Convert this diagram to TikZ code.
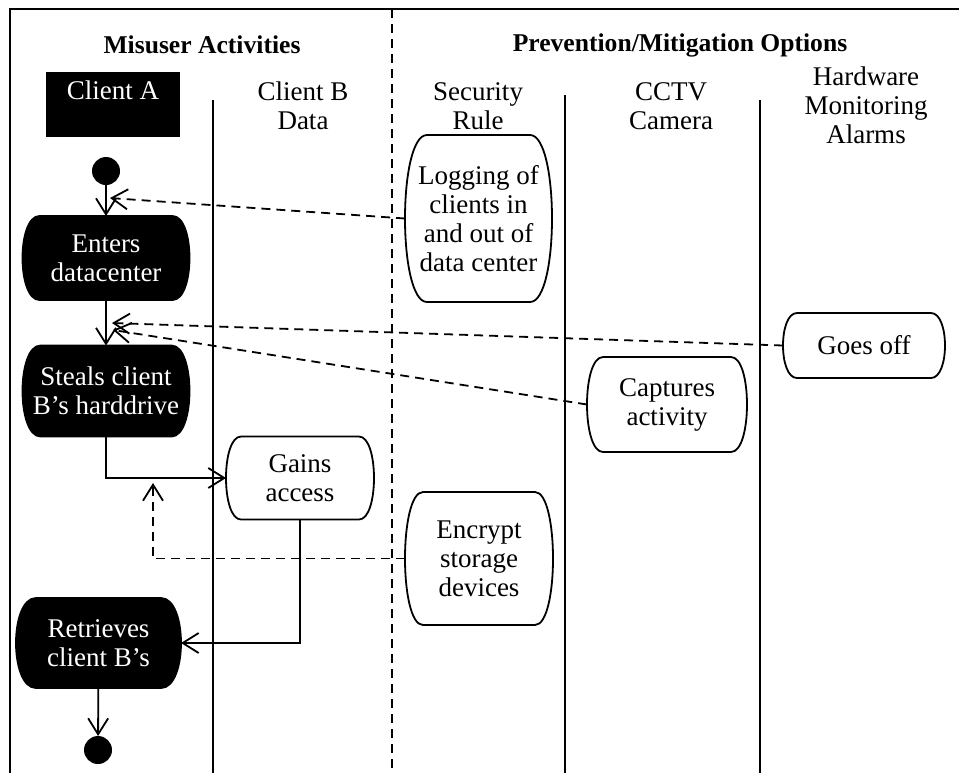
\documentclass[tikz,border=0pt]{standalone}
\usepackage{fontspec}
\setmainfont{Liberation Serif}
\usetikzlibrary{arrows.meta,backgrounds}
\newcommand\drawcap[3]{%
  \begin{scope}[on background layer]
  \path[lw, draw, fill=#3] ([xshift=#2*0.5pt]#1.north west) -- ([xshift=-#2*0.5pt]#1.north east)
    .. controls ([xshift=#2*0.5pt/3]#1.north east) and ([xshift=#2*0.5pt/3]#1.south east) .. ([xshift=-#2*0.5pt]#1.south east)
    -- ([xshift=#2*0.5pt]#1.south west)
    .. controls ([xshift=-#2*0.5pt/3]#1.south west) and ([xshift=-#2*0.5pt/3]#1.north west) .. cycle;
  \end{scope}}
\begin{document}
\begin{tikzpicture}[x=0.5pt,y=-0.5pt,
  lw/.style={line width=0.9pt},
  tip/.style={-{Straight Barb[length=8pt,width=10pt,line width=0.9pt]}},
  txt/.style={font=\fontsize{13.5}{14.5}\selectfont, align=center},
  act/.style={rectangle, txt, text=white, inner sep=0pt, outer sep=0pt},
  opt/.style={rectangle, txt, inner sep=0pt, outer sep=0pt},
  ttl/.style={font=\fontsize{12.8}{14}\selectfont\bfseries},
  dsh/.style={dash pattern=on 4.5pt off 3pt, line width=0.9pt},
  dot/.style={circle, fill=black, inner sep=0pt, minimum size=14pt, outer sep=0pt},
]
\useasboundingbox (0,0) rectangle (959,773);
% frame and lanes
\draw[lw] (959,9) -- (10,9) -- (10,773);
\draw[lw] (213,100) -- (213,773);
\draw[lw] (565,95) -- (565,773);
\draw[lw] (760,100) -- (760,773);
\draw[dsh] (392,9) -- (392,773);
% titles
\node[ttl] (t1) at (202,45) {Misuser Activities};
\node[ttl] (t2) at (680,45) {Prevention/Mitigation Options};
% headers
\node[fill=black, text=white, txt, minimum width=67pt, minimum height=32.5pt, inner sep=0pt] (ca) at (113,104.5) {Client A\\\mbox{}};
\node[txt] (cb) at (303,106) {Client B\\Data};
\node[txt] (sr) at (478,106) {Security\\Rule};
\node[txt] (cc) at (671,106) {CCTV\\Camera};
\node[txt] (hw) at (866,105) {Hardware\\Monitoring\\Alarms};
% activity nodes
\node[dot] (start) at (106,171) {};
\node[act, minimum width=83.5pt, minimum height=42pt] (enters) at (106,258) {Enters\\datacenter};
\drawcap{enters}{17}{black}
\node[act, minimum width=83.5pt, minimum height=45.5pt] (steals) at (106,391) {Steals client\\B’s harddrive};
\drawcap{steals}{18}{black}
\node[opt, minimum width=74pt, minimum height=41.5pt] (gains) at (300,478) {Gains\\access};
\drawcap{gains}{15}{white}
\node[act, minimum width=82.5pt, minimum height=45pt] (retr) at (98.5,643) {Retrieves\\client B’s};
\drawcap{retr}{20}{black}
\node[dot] (end) at (98,750) {};
% options
\node[opt, minimum width=73.5pt, minimum height=83.5pt] (log) at (478.5,218.5) {Logging of\\clients in\\and out of\\data center};
\drawcap{log}{22}{white}
\node[opt, minimum width=81pt, minimum height=32.5pt] (goes) at (864,345.5) {Goes off};
\drawcap{goes}{14}{white}
\node[opt, minimum width=80pt, minimum height=47.5pt] (capt) at (667,404.5) {Captures\\activity};
\drawcap{capt}{16}{white}
\node[opt, minimum width=74pt, minimum height=66.5pt] (enc) at (479,558.5) {Encrypt\\storage\\devices};
\drawcap{enc}{18}{white}
% flow
\draw[lw,tip] (start) -- (enters);
\draw[lw,tip] (enters) -- (steals);
\draw[lw,tip] (steals.south) |- (gains.west);
\draw[lw,tip] (gains.south) |- (retr.east);
\draw[lw,tip] (retr) -- (end);
% mitigation links
\coordinate (p1) at (110,198);
\coordinate (p2) at (112,323);
\coordinate (p3) at (113,330);
\coordinate (p4) at (153,483);
\draw[dsh,tip] (log.west) -- (p1);
\draw[dsh,tip] (goes.west) -- (p2);
\draw[dsh,tip] (capt.west) -- (p3);
\draw[dsh,tip] (enc.west) -| (p4);
\end{tikzpicture}
\end{document}
